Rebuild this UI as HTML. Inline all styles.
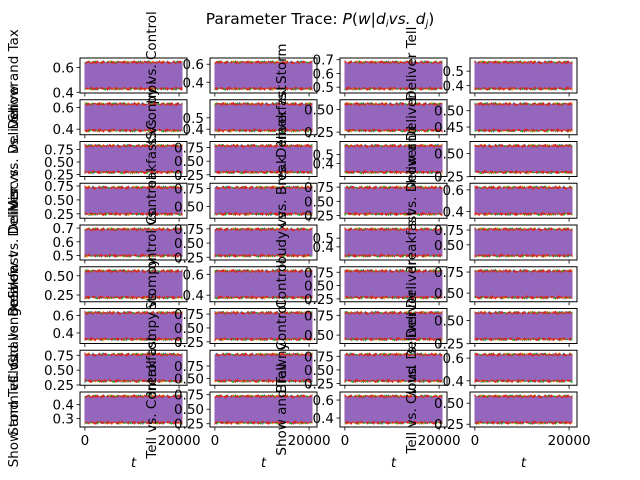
<!DOCTYPE html>
<html><head><meta charset="utf-8"><style>
html,body{margin:0;padding:0;background:#fff}
svg{display:block;font-family:"DejaVu Sans","Liberation Sans",sans-serif}
</style></head><body>
<svg id="fig" width="640" height="480" viewBox="0 0 640 480" xmlns="http://www.w3.org/2000/svg">
<rect width="640" height="480" fill="#fff"/>
<text x="320" y="24" text-anchor="middle" font-size="15.5" fill="#000">Parameter Trace: <tspan font-style="italic">P</tspan>(<tspan font-style="italic">w</tspan>|<tspan font-style="italic">d<tspan font-size="10" dy="3">i</tspan><tspan dy="-3">vs. d</tspan><tspan font-size="10" dy="3">j</tspan></tspan><tspan dy="-3">)</tspan></text>
<g id="plots"></g>
</svg>
<script>
// x-axis data
const tMax = 20650;
const xTicks = [0, 20000];
const xTickLabels = ["0", "20000"];
// per-subplot band (lower/upper envelope of traces), row-major 9x4
const bandLo = [0.43,0.33,0.49,0.38, 0.39,0.39,0.27,0.44, 0.30,0.30,0.30,0.30, 0.25,0.40,0.28,0.38, 0.50,0.28,0.30,0.32, 0.22,0.38,0.28,0.45, 0.33,0.30,0.45,0.30, 0.32,0.45,0.30,0.40, 0.27,0.27,0.35,0.27];
const bandHi = [0.64,0.62,0.68,0.56, 0.63,0.62,0.56,0.52, 0.82,0.78,0.60,0.58, 0.72,0.76,0.74,0.62, 0.69,0.74,0.60,0.76, 0.56,0.63,0.77,0.76, 0.63,0.77,0.78,0.58, 0.76,0.98,0.78,0.63, 0.46,0.72,0.64,0.58];
const yTickSets = [
 [0.4,0.6],[0.4,0.6],[0.5,0.6,0.7],[0.4,0.5],
 [0.4,0.6],[0.4,0.5],[0.25,0.5],[0.45,0.5],
 [0.25,0.5,0.75],[0.25,0.5,0.75],[0.4,0.5],[0.25,0.5],
 [0.25,0.5,0.75],[0.5,0.75],[0.25,0.5,0.75],[0.4,0.6],
 [0.5,0.6,0.7],[0.25,0.5,0.75],[0.4,0.5],[0.5,0.75],
 [0.25,0.5],[0.4,0.6],[0.25,0.5,0.75],[0.5,0.75],
 [0.4,0.6],[0.25,0.5,0.75],[0.5,0.75],[0.25,0.5],
 [0.25,0.5,0.75],[0.5,0.75],[0.25,0.5,0.75],[0.4,0.6],
 [0.3,0.4],[0.25,0.5,0.75],[0.4,0.6],[0.25,0.5]];
const yLabels = ["Show and Tax","Stompy vs. Control","vs. Storm","vs. Deliver Tell",
 "vs. Deliver","vs. Control","Breakfast","Deliver",
 "Misc vs. Deliver","Breakfast vs.","Tax vs. Deliver","Show and",
 "Deliver vs.","Control","Tax vs. Break","Taxes vs. Deliver",
 "Show vs. Deliver","Control vs.","Cloudy vs.","Breakfast",
 "Breakfast","Stompy","Control","Deliver",
 "Cloud vs. Deliver","Stompy vs.","Control","vs. Deliver",
 "Storm vs. Challenge","Breakfast","Brawny","Show vs. Deliver",
 "Show and Tell vs.","Tell vs. Control","Show and Tell","Tell vs. Cloud"];
// fixed jitter shape of the traces (typed, 48 bins)
const jitter = [0.2,-0.5,0.8,-0.1,0.6,-0.9,0.3,0.1,-0.4,0.9,-0.2,0.5,-0.7,0.4,0.0,-0.3,0.7,-0.6,0.2,0.8,-0.1,-0.8,0.5,0.3,-0.5,0.6,-0.2,0.9,-0.4,0.1,0.7,-0.7,0.4,-0.3,0.0,0.6,-0.9,0.3,0.5,-0.1,0.8,-0.5,0.2,-0.6,0.4,0.9,-0.3,0.1];
const chainColors = ["#1f77b4","#ff7f0e","#2ca02c","#d62728","#9467bd"];

const colX = [80,210,340,470], axW = 107, rowY0 = 58, rowStep = 41.75, axH = 35;
const NS = "http://www.w3.org/2000/svg";
const root = document.getElementById('plots');
function mk(tag, attrs, parent){const e=document.createElementNS(NS,tag);for(const k in attrs)e.setAttribute(k,attrs[k]);(parent||root).appendChild(e);return e;}

for(let i=0;i<36;i++){
  const r=Math.floor(i/4), c=i%4;
  const x0=colX[c], y0=rowY0+r*rowStep;
  const lo=bandLo[i], hi=bandHi[i], span=hi-lo;
  const yMin=lo-0.17*span, yMax=hi+0.17*span;
  const tMin=-0.05*tMax, tMaxL=tMax*1.05;
  const xs=t=>x0+(t-tMin)/(tMaxL-tMin)*axW;
  const ys=v=>y0+axH-(v-yMin)/(yMax-yMin)*axH;
  const g=mk('g',{});
  
  
  const cp=mk('clipPath',{id:'cp'+i},g);
  mk('rect',{x:x0,y:y0,width:axW,height:axH},cp);
  const tg=mk('g',{'clip-path':'url(#cp'+i+')'},g);
  const n=jitter.length;
  chainColors.forEach((col,k)=>{
    const amp=(k===4?0.05:0.08)*span;
    const inset=(k===4?0.05*span:0);
    let top='',bot=[];
    for(let j=0;j<n;j++){
      const t=j/(n-1)*tMax;
      const jt=jitter[(j+k*7+i*3)%n], jb=jitter[(j+k*11+i*5+13)%n];
      top+=(j?'L':'M')+xs(t).toFixed(1)+','+ys(hi+jt*amp-inset).toFixed(1);
      bot.unshift('L'+xs(t).toFixed(1)+','+ys(lo-jb*amp+inset).toFixed(1));
    }
    const p=mk('path',{d:top+bot.join('')+'Z',fill:col,stroke:col,'stroke-width':0.6},tg);
    
    
  });
  const fr=mk('rect',{x:x0,y:y0,width:axW,height:axH,fill:'none',stroke:'#000','stroke-width':1},g);
  
  
  xTicks.forEach((t,k)=>{
    mk('line',{x1:xs(t),x2:xs(t),y1:y0+axH,y2:y0+axH+3.5,stroke:'#000','stroke-width':0.8},g);
    if(r===8){
      const tl=mk('text',{x:xs(t),y:y0+axH+18,'text-anchor':'middle','font-size':13.5,fill:'#000'},g);
      tl.textContent=xTickLabels[k];
      
      
    }
  });
  const dec=yTickSets[i].some(v=>Math.abs(v*10-Math.round(v*10))>1e-6)?2:1;
  yTickSets[i].forEach(v=>{
    if(v<yMin-0.03*span||v>yMax+0.03*span)return;
    const yy=ys(v);
    mk('line',{x1:x0-3.5,x2:x0,y1:yy,y2:yy,stroke:'#000','stroke-width':0.8},g);
    const tl=mk('text',{x:x0-6,y:yy+5,'text-anchor':'end','font-size':13.5,fill:'#000'},g);
    tl.textContent=v.toFixed(dec);
    
    
  });
  const lx=x0-(c===0?62:54), ly=y0+axH/2;
  const yl=mk('text',{x:lx,y:ly,'text-anchor':'middle','font-size':13.5,fill:'#000',transform:'rotate(-90 '+lx+' '+ly+')'},g);
  yl.textContent=yLabels[i];
  
  
  if(r===8){
    const xt=mk('text',{x:x0+axW/2,y:467,'text-anchor':'middle','font-size':13.5,'font-style':'italic',fill:'#000'},g);
    xt.textContent='t';
    
    
  }
}
</script>
</body></html>
